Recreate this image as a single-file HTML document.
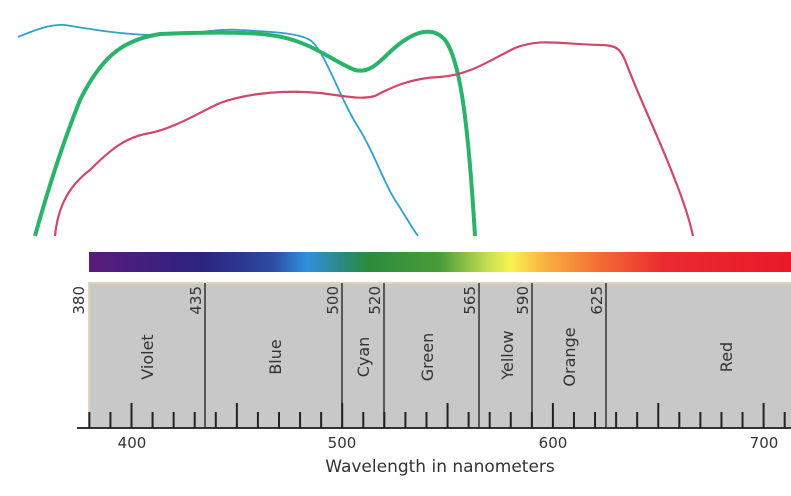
<!DOCTYPE html>
<html><head><style>
body{margin:0;background:#fff;width:791px;height:491px;overflow:hidden}
text{font-family:"DejaVu Sans","Liberation Sans",sans-serif;fill:#333}
</style></head><body>
<svg width="791" height="491" viewBox="0 0 791 491">
<defs><linearGradient id="g" x1="89" x2="791" gradientUnits="userSpaceOnUse" y1="0" y2="0">
<stop offset="0" stop-color="#5a1c7c"/><stop offset="0.16" stop-color="#2c237e"/>
<stop offset="0.26" stop-color="#2d4aa0"/>
<stop offset="0.31" stop-color="#3190df"/><stop offset="0.36" stop-color="#2a8a80"/>
<stop offset="0.4" stop-color="#2b8c3c"/><stop offset="0.5" stop-color="#4a9c3a"/>
<stop offset="0.57" stop-color="#c8e050"/><stop offset="0.6" stop-color="#f8f450"/>
<stop offset="0.65" stop-color="#f8b040"/><stop offset="0.73" stop-color="#f36a35"/>
<stop offset="0.82" stop-color="#ea2a30"/><stop offset="1" stop-color="#e81a2a"/>
</linearGradient></defs>
<path d="M18,37 C35,30 50,24 65,25 C95,30 120,34 150,35 C190,35 220,28 240,30 C280,32 300,34 310,40 C325,50 340,100 360,130 C375,155 385,185 395,200 C405,215 412,228 418,236" fill="none" stroke="#2fa0cf" stroke-width="1.8"/>
<path d="M35,236 C45,200 60,150 80,100 C100,60 120,40 160,34 C200,32 250,32 270,35 C310,40 330,60 355,70 C375,75 385,52 405,40 C420,30 435,28 445,40 C460,60 468,120 475,236" fill="none" stroke="#2cb36a" stroke-width="4"/>
<path d="M55,236 C58,205 70,185 90,170 C110,150 125,137 150,133 C175,128 200,112 220,103 C250,92 290,90 320,93 C345,96 360,100 375,96 C390,88 410,78 440,77 C470,75 490,60 515,48 C540,38 560,44 600,45 C615,45 620,48 625,60 C640,100 660,140 675,180 C685,205 690,222 693,236" fill="none" stroke="#d04868" stroke-width="2.2"/>
<rect x="89" y="252" width="702" height="20" fill="url(#g)"/>
<rect x="89" y="283" width="710" height="145" fill="#c8c8c8" stroke="#e0d4b8" stroke-width="2"/>
<g stroke="#333" stroke-width="1.5">
<line x1="205" y1="283" x2="205" y2="428"/><line x1="342" y1="283" x2="342" y2="428"/>
<line x1="384" y1="283" x2="384" y2="428"/><line x1="479" y1="283" x2="479" y2="428"/>
<line x1="532" y1="283" x2="532" y2="428"/><line x1="606" y1="283" x2="606" y2="428"/>
<line x1="77" y1="428" x2="791" y2="428" stroke-width="2"/>
</g>
<g stroke="#222" stroke-width="2" id="ticks"></g>
<g font-size="15" text-anchor="end">
<text transform="translate(84,286) rotate(-90)">380</text>
<text transform="translate(201,286) rotate(-90)">435</text>
<text transform="translate(338,286) rotate(-90)">500</text>
<text transform="translate(380,286) rotate(-90)">520</text>
<text transform="translate(475,286) rotate(-90)">565</text>
<text transform="translate(528,286) rotate(-90)">590</text>
<text transform="translate(602,286) rotate(-90)">625</text>
</g>
<g font-size="16" text-anchor="middle">
<text transform="translate(148,357) rotate(-90)" dy="5">Violet</text>
<text transform="translate(276,357) rotate(-90)" dy="5">Blue</text>
<text transform="translate(364,357) rotate(-90)" dy="5">Cyan</text>
<text transform="translate(428,357) rotate(-90)" dy="5">Green</text>
<text transform="translate(508,355) rotate(-90)" dy="5">Yellow</text>
<text transform="translate(570,357) rotate(-90)" dy="5">Orange</text>
<text transform="translate(727,357) rotate(-90)" dy="5">Red</text>
</g>
<g font-size="15" text-anchor="middle" fill="#333">
<text x="132" y="448">400</text><text x="342" y="448">500</text>
<text x="553" y="448">600</text><text x="764" y="448">700</text>
</g>
<text x="440" y="472" font-size="17" text-anchor="middle">Wavelength in nanometers</text>
</svg>
<script>
var g=document.getElementById('ticks'),s='';
for(var n=380;n<=790;n+=10){var x=131.5+(n-400)*2.107;var t=(n%50==0)?403:412;
s+='<line x1="'+x+'" y1="'+t+'" x2="'+x+'" y2="428"/>';}
g.innerHTML=s;
</script>
</body></html>
